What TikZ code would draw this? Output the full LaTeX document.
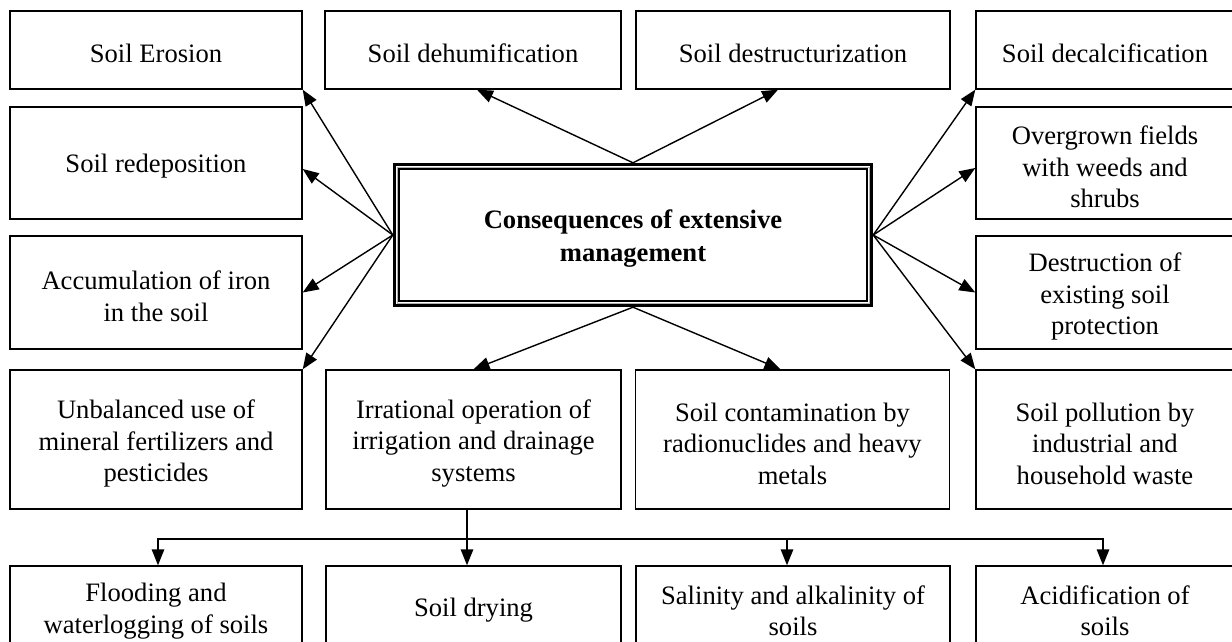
\documentclass[tikz,border=0pt]{standalone}
\usepackage{fontspec}
\setmainfont{Liberation Serif}
\usetikzlibrary{arrows.meta}
\begin{document}
\begin{tikzpicture}[x=1pt,y=-1pt,
  box/.style={draw, line width=1.4pt, inner sep=0pt},
  txt/.style={align=center, inner sep=0pt, font=\fontsize{26.6}{31.5}\selectfont},
  arr/.style={-{Triangle[length=16pt,width=12.5pt]}, line width=1.4pt},
  lnk/.style={line width=1.4pt}]
\useasboundingbox (0,0) rectangle (1232,642);
\clip (0,0) rectangle (1232,642);
% top row
\node[box, minimum width=292pt, minimum height=78pt] (erosion) at (156,50) {};
\node[box, minimum width=296pt, minimum height=78pt] (dehum) at (473,50) {};
\node[box, minimum width=314pt, minimum height=78pt] (destr) at (793,50) {};
\node[box, minimum width=258pt, minimum height=78pt] (decalc) at (1105,50) {};
% second row
\node[box, minimum width=292pt, minimum height=112pt] (redep) at (156,163) {};
\node[box, minimum width=258pt, minimum height=112pt] (overg) at (1105,163) {};
% third row
\node[box, minimum width=292pt, minimum height=113pt] (accum) at (156,292.5) {};
\node[box, minimum width=258pt, minimum height=113pt] (protect) at (1105,292.5) {};
% fourth row
\node[box, minimum width=292pt, minimum height=139pt] (unbal) at (156,439.5) {};
\node[box, minimum width=295pt, minimum height=139pt] (irr) at (473.5,439.5) {};
\node[box, minimum width=314pt, minimum height=139pt] (cont) at (792.5,439.5) {};
\node[box, minimum width=258pt, minimum height=139pt] (poll) at (1105,439.5) {};
% bottom row
\node[box, minimum width=292pt, minimum height=82pt] (flood) at (156,607) {};
\node[box, minimum width=295pt, minimum height=82pt] (dry) at (473.5,607) {};
\node[box, minimum width=314pt, minimum height=82pt] (sal) at (793,607) {};
\node[box, minimum width=258pt, minimum height=82pt] (acid) at (1105,607) {};
% texts
\node[txt] (erosion-t) at ([yshift=-3pt]erosion.center) {Soil Erosion};
\node[txt] (dehum-t) at ([yshift=-3pt]dehum.center) {Soil dehumification};
\node[txt] (destr-t) at ([yshift=-3pt]destr.center) {Soil destructurization};
\node[txt] (decalc-t) at ([yshift=-3pt]decalc.center) {Soil decalcification};
\node[txt] (redep-t) at ([yshift=-3pt]redep.center) {Soil redeposition};
\node[txt] (overg-t) at ([yshift=-4pt]overg.center) {Overgrown fields\\with weeds and\\shrubs};
\node[txt] (accum-t) at ([yshift=-4pt]accum.center) {Accumulation of iron\\in the soil};
\node[txt] (protect-t) at ([yshift=-4pt]protect.center) {Destruction of\\existing soil\\protection};
\node[txt] (unbal-t) at ([yshift=-4pt]unbal.center) {Unbalanced use of\\mineral fertilizers and\\pesticides};
\node[txt] (irr-t) at ([yshift=-4pt]irr.center) {Irrational operation of\\irrigation and drainage\\systems};
\node[txt] (cont-t) at ([yshift=-4pt]cont.center) {Soil contamination by\\radionuclides and heavy\\metals};
\node[txt] (poll-t) at ([yshift=-4pt]poll.center) {Soil pollution by\\industrial and\\household waste};
\node[txt] (flood-t) at ([yshift=-4pt]flood.center) {Flooding and\\waterlogging of soils};
\node[txt] (dry-t) at ([yshift=-3pt]dry.center) {Soil drying};
\node[txt] (sal-t) at ([yshift=-4pt]sal.center) {Salinity and alkalinity of\\soils};
\node[txt] (acid-t) at ([yshift=-4pt]acid.center) {Acidification of\\soils};
% central node
\node[inner sep=0pt, minimum width=480pt, minimum height=144pt] (cen) at (633,235) {};
\node[txt, font=\fontsize{26.6}{33}\selectfont\bfseries] (cen-t) at ([yshift=-4pt]cen.center)
  {Consequences of extensive\\management};
\draw[line width=3.2pt] ([shift={(1.6,1.6)}]cen.north west) rectangle ([shift={(-1.6,-1.6)}]cen.south east);
\draw[line width=0.8pt, gray!60] ([shift={(4.2,4.2)}]cen.north west) rectangle ([shift={(-4.2,-4.2)}]cen.south east);
\draw[line width=1.1pt] ([shift={(6.2,6.2)}]cen.north west) rectangle ([shift={(-6.2,-6.2)}]cen.south east);
% arrows from the centre
\draw[arr] (cen.west) -- (erosion.south east);
\draw[arr] (cen.west) -- ([yshift=-6pt]redep.east);
\draw[arr] (cen.west) -- (accum.east);
\draw[arr] (cen.west) -- (unbal.north east);
\draw[arr] (cen.north) -- ([xshift=4pt]dehum.south);
\draw[arr] (cen.north) -- ([xshift=-15pt]destr.south);
\draw[arr] (cen.east) -- (decalc.south west);
\draw[arr] (cen.east) -- ([yshift=-5pt]overg.west);
\draw[arr] (cen.east) -- (protect.west);
\draw[arr] (cen.east) -- (poll.north west);
\draw[arr] (cen.south) -- (irr.north);
\draw[arr] (cen.south) -- ([xshift=-12pt]cont.north);
% irrigation branch
\coordinate (br) at (467,539);
\draw[arr] ([xshift=-6.5pt]irr.south) -- ([xshift=-6.5pt]dry.north);
\draw[arr] (br) -| ([xshift=2pt]flood.north);
\draw[arr] (br) -| ([xshift=-6pt]sal.north);
\draw[arr] (br) -| ([xshift=-2pt]acid.north);
\end{tikzpicture}
\end{document}
